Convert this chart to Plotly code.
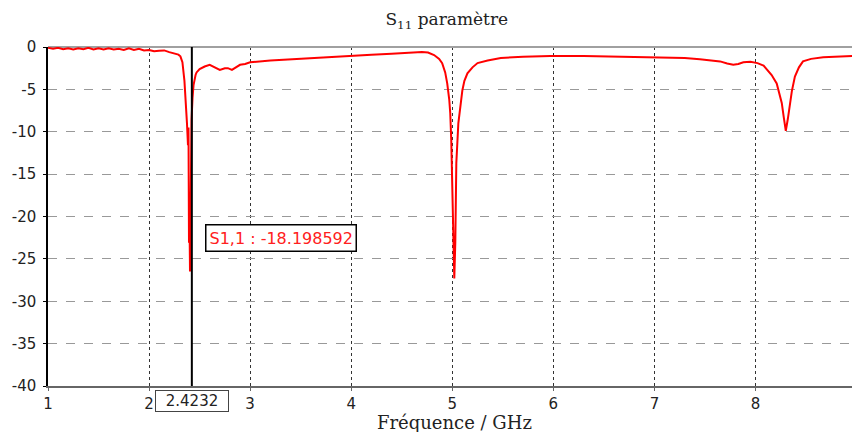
import plotly.graph_objects as go

# S11 trace (GHz, dB)
freq = [1.00, 1.05, 1.10, 1.15, 1.20, 1.25, 1.30, 1.35, 1.40, 1.45, 1.50, 1.55, 1.60,
        1.65, 1.70, 1.75, 1.80, 1.85, 1.90, 1.95, 2.00, 2.05, 2.10, 2.15, 2.20, 2.25,
        2.29, 2.31, 2.33, 2.35, 2.37, 2.375, 2.385, 2.39, 2.395, 2.40, 2.405, 2.41,
        2.415, 2.42, 2.43, 2.44, 2.46, 2.47, 2.50, 2.55, 2.60, 2.65, 2.70, 2.75, 2.78,
        2.82, 2.86, 2.90, 2.95, 3.00, 3.2, 3.4, 3.6, 3.8, 4.0, 4.2, 4.4, 4.6, 4.7, 4.76,
        4.82, 4.87, 4.90, 4.93, 4.95, 4.97, 4.98, 4.99, 5.00, 5.01, 5.02, 5.03, 5.04,
        5.06, 5.08, 5.10, 5.12, 5.15, 5.20, 5.25, 5.35, 5.48, 5.7, 5.97, 6.3, 6.6, 7.0,
        7.3, 7.45, 7.55, 7.65, 7.72, 7.78, 7.83, 7.88, 7.95, 8.02, 8.08, 8.12, 8.16,
        8.21, 8.24, 8.26, 8.28, 8.30, 8.32, 8.34, 8.36, 8.39, 8.43, 8.47, 8.55, 8.67,
        8.80, 8.96]
s11 = [-0.1, -0.2, -0.1, -0.25, -0.15, -0.3, -0.15, -0.25, -0.1, -0.3, -0.15, -0.3, -0.15,
       -0.3, -0.2, -0.35, -0.15, -0.35, -0.2, -0.4, -0.35, -0.5, -0.45, -0.4, -0.6, -0.8,
       -0.9, -1.1, -1.8, -4.0, -7.5, -9.0, -11.6, -9.5, -23.1, -20.0, -26.5, -21.9,
       -11.0, -8.6, -6.0, -4.5, -3.3, -3.0, -2.6, -2.3, -2.1, -2.4, -2.7, -2.5, -2.5,
       -2.7, -2.4, -2.1, -2.0, -1.8, -1.6, -1.45, -1.3, -1.15, -1.0, -0.9, -0.8, -0.65, -0.6, -0.65,
       -0.95, -1.4, -1.9, -3.0, -4.3, -6.2, -7.8, -11.0, -16.0, -22.4, -27.3, -23.0, -13.7,
       -9.0, -6.8, -5.1, -4.0, -3.1, -2.4, -1.9, -1.6, -1.3, -1.15, -1.06, -1.05, -1.1, -1.2,
       -1.3, -1.45, -1.6, -1.7, -1.95, -2.1, -2.0, -1.8, -1.75, -1.9, -2.2, -2.7, -3.3,
       -4.3, -5.5, -6.6, -8.3, -9.9, -8.5, -6.9, -5.2, -3.5, -2.4, -1.7, -1.4, -1.2,
       -1.1, -1.05]

marker_x = 2.4232
marker_label = "S1,1 : -18.198592"
x_ticks = [1, 2, 3, 4, 5, 6, 7, 8, 9]
y_ticks = [0, -5, -10, -15, -20, -25, -30, -35, -40]

fig = go.Figure()
fig.add_trace(go.Scatter(x=freq, y=s11, mode='lines',
                         line=dict(color='#ff0000', width=2), showlegend=False))

# marker line
fig.add_shape(type='line', x0=marker_x, x1=marker_x, y0=-40, y1=0,
              line=dict(color='black', width=2))

fig.add_annotation(x=3.305, y=-22.5, text=marker_label, showarrow=False,
                   font=dict(family='DejaVu Sans', size=16, color='#ff2020'),
                   bordercolor='black', borderwidth=1.5, borderpad=3, bgcolor='white')
fig.add_annotation(x=marker_x, y=-0.012, yref='paper', yanchor='top', text='2.4232',
                   showarrow=False, width=70,
                   font=dict(family='DejaVu Sans', size=15, color='#222'),
                   bordercolor='#444', borderwidth=1, borderpad=1, bgcolor='white')
# axis title as annotation so it sits inside the page
fig.add_annotation(x=0.506, xref='paper', y=-0.107, yref='paper', yanchor='middle',
                   text='Fréquence / GHz', showarrow=False,
                   font=dict(family='DejaVu Serif', size=18, color='#222'))

fig.update_layout(
    width=852, height=432,
    margin=dict(l=48, r=0, t=47, b=46, autoexpand=False),
    plot_bgcolor='white', paper_bgcolor='white',
    title=dict(text='S<sub>11</sub> paramètre', x=0.496, xref='paper', y=0.955, yanchor='middle',
               automargin=False,
               font=dict(family='DejaVu Serif', size=17, color='#222')),
    font=dict(family='DejaVu Sans', size=15, color='#222'),
)
fig.update_xaxes(range=[1, 8.955], tickvals=x_ticks, showgrid=True, gridcolor='#333',
                 griddash='dot', gridwidth=1, zeroline=False, automargin=False,
                 showline=True, linecolor='#666', linewidth=1.5,
                 ticks='outside', ticklen=3, tickcolor='#666')
fig.update_yaxes(range=[-40, 0], tickvals=y_ticks, ticktext=[str(v) for v in y_ticks],
                 showgrid=True, gridcolor='#999', automargin=False, ticklabelstandoff=4,
                 griddash='dash', gridwidth=1, zeroline=True, zerolinecolor='#a0a0a0',
                 zerolinewidth=2, showline=True, linecolor='black', linewidth=1.5,
                 ticks='outside', ticklen=3, tickcolor='black')

fig.write_html("out.html", config={'displayModeBar': False},
               post_script="document.body.style.margin='0';")
